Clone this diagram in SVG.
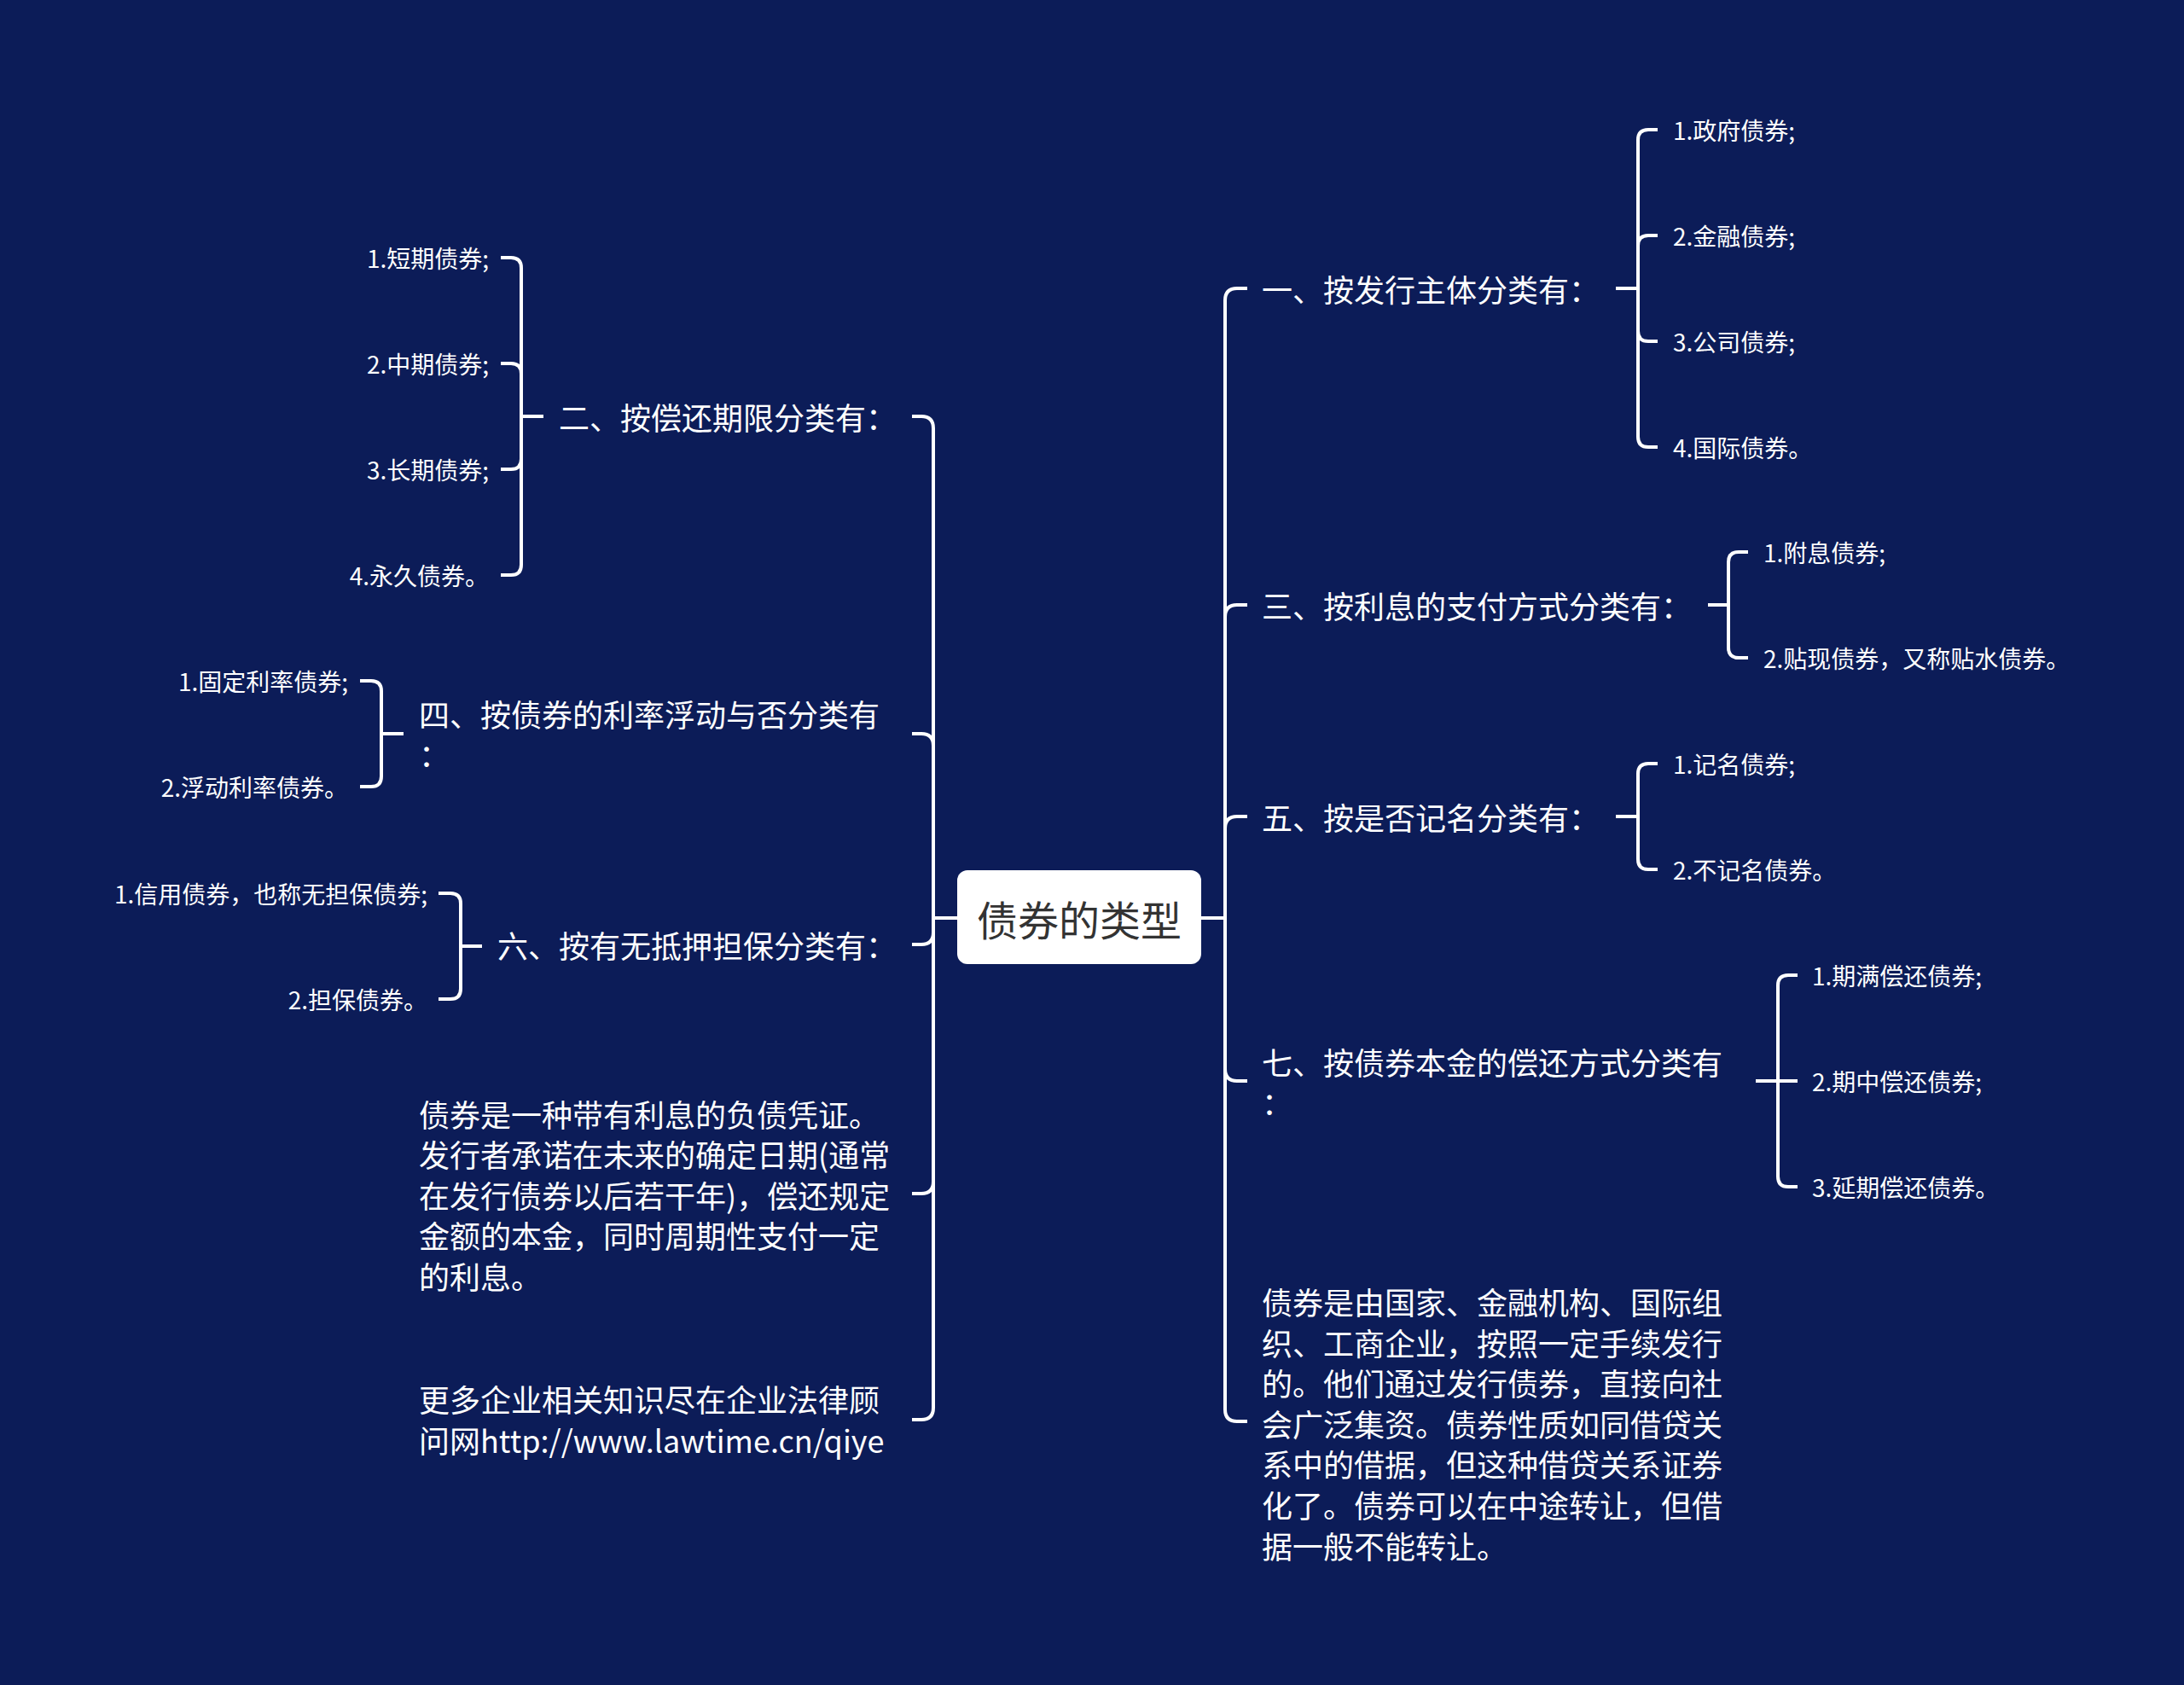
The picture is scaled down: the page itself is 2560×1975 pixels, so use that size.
<svg xmlns="http://www.w3.org/2000/svg" width="2560" height="1975" viewBox="0 0 2560 1975">
<style>
text{font-family:"Noto Sans CJK SC","Noto Sans",sans-serif;fill:#ffffff;dominant-baseline:central}
.l1{font-size:36px}
.l2{font-size:28px}
.r{text-anchor:end}
.c{fill:none;stroke:#ffffff;stroke-width:4;stroke-linecap:butt;stroke-linejoin:round}
</style>
<rect x="0" y="0" width="2560" height="1975" fill="#0c1c58"/>
<g id="connectors" class="c">
<path d="M1407,1076 H1436"/>
<path d="M1436,1076 V352 Q1436,338 1450,338 H1462"/>
<path d="M1436,1076 V723 Q1436,709 1450,709 H1462"/>
<path d="M1436,1076 V971 Q1436,957 1450,957 H1462"/>
<path d="M1436,1076 V1253 Q1436,1267 1450,1267 H1462"/>
<path d="M1436,1076 V1652 Q1436,1666 1450,1666 H1462"/>
<path d="M1122,1076 H1094"/>
<path d="M1094,1076 V502 Q1094,488 1080,488 H1069"/>
<path d="M1094,1076 V874 Q1094,860 1080,860 H1069"/>
<path d="M1094,1076 V1093 Q1094,1107 1080,1107 H1069"/>
<path d="M1094,1076 V1385 Q1094,1399 1080,1399 H1069"/>
<path d="M1094,1076 V1650 Q1094,1664 1080,1664 H1069"/>
<path d="M1894,338 H1920"/>
<path d="M1920,338 V164 Q1920,152 1932,152 H1943"/>
<path d="M1920,338 V288 Q1920,276 1932,276 H1943"/>
<path d="M1920,338 V388 Q1920,400 1932,400 H1943"/>
<path d="M1920,338 V512 Q1920,524 1932,524 H1943"/>
<path d="M2002,709 H2026"/>
<path d="M2026,709 V659 Q2026,647 2038,647 H2049"/>
<path d="M2026,709 V759 Q2026,771 2038,771 H2049"/>
<path d="M1894,957 H1920"/>
<path d="M1920,957 V907 Q1920,895 1932,895 H1943"/>
<path d="M1920,957 V1007 Q1920,1019 1932,1019 H1943"/>
<path d="M2058,1267 H2084"/>
<path d="M2084,1267 V1155 Q2084,1143 2096,1143 H2107"/>
<path d="M2084,1267 H2107"/>
<path d="M2084,1267 V1379 Q2084,1391 2096,1391 H2107"/>
<path d="M637,488 H611"/>
<path d="M611,488 V314 Q611,302 599,302 H587"/>
<path d="M611,488 V438 Q611,426 599,426 H587"/>
<path d="M611,488 V538 Q611,550 599,550 H587"/>
<path d="M611,488 V662 Q611,674 599,674 H587"/>
<path d="M473,860 H447"/>
<path d="M447,860 V810 Q447,798 435,798 H422"/>
<path d="M447,860 V910 Q447,922 435,922 H422"/>
<path d="M565,1109 H540"/>
<path d="M540,1109 V1059 Q540,1047 528,1047 H514"/>
<path d="M540,1109 V1159 Q540,1171 528,1171 H514"/>
</g>
<g id="root">
<rect x="1122" y="1020" width="286" height="110" rx="12" fill="#ffffff"/>
<text x="1265" y="1076" font-size="48" text-anchor="middle" style="fill:#333333">债券的类型</text>
</g>
<g id="n1"><text class="l1" x="1479" y="338">一、按发行主体分类有：</text></g>
<g id="n1-1"><text class="l2" x="1961" y="152">1.政府债券;</text></g>
<g id="n1-2"><text class="l2" x="1961" y="276">2.金融债券;</text></g>
<g id="n1-3"><text class="l2" x="1961" y="400">3.公司债券;</text></g>
<g id="n1-4"><text class="l2" x="1961" y="524">4.国际债券。</text></g>
<g id="n3"><text class="l1" x="1479" y="709">三、按利息的支付方式分类有：</text></g>
<g id="n3-1"><text class="l2" x="2067" y="647">1.附息债券;</text></g>
<g id="n3-2"><text class="l2" x="2067" y="771">2.贴现债券，又称贴水债券。</text></g>
<g id="n5"><text class="l1" x="1479" y="957">五、按是否记名分类有：</text></g>
<g id="n5-1"><text class="l2" x="1961" y="895">1.记名债券;</text></g>
<g id="n5-2"><text class="l2" x="1961" y="1019">2.不记名债券。</text></g>
<g id="n7"><text class="l1" x="1479" y="1244">七、按债券本金的偿还方式分类有</text><text class="l1" x="1479" y="1291">：</text></g>
<g id="n7-1"><text class="l2" x="2124" y="1143">1.期满偿还债券;</text></g>
<g id="n7-2"><text class="l2" x="2124" y="1267">2.期中偿还债券;</text></g>
<g id="n7-3"><text class="l2" x="2124" y="1391">3.延期偿还债券。</text></g>
<g id="n9"><text class="l1" x="1479" y="1525">债券是由国家、金融机构、国际组</text><text class="l1" x="1479" y="1572.6">织、工商企业，按照一定手续发行</text><text class="l1" x="1479" y="1620.2">的。他们通过发行债券，直接向社</text><text class="l1" x="1479" y="1667.8">会广泛集资。债券性质如同借贷关</text><text class="l1" x="1479" y="1715.4">系中的借据，但这种借贷关系证券</text><text class="l1" x="1479" y="1763">化了。债券可以在中途转让，但借</text><text class="l1" x="1479" y="1810.6">据一般不能转让。</text></g>
<g id="n2"><text class="l1" x="655" y="488">二、按偿还期限分类有：</text></g>
<g id="n2-1"><text class="l2 r" x="573" y="302">1.短期债券;</text></g>
<g id="n2-2"><text class="l2 r" x="573" y="426">2.中期债券;</text></g>
<g id="n2-3"><text class="l2 r" x="573" y="550">3.长期债券;</text></g>
<g id="n2-4"><text class="l2 r" x="573" y="674">4.永久债券。</text></g>
<g id="n4"><text class="l1" x="491" y="836">四、按债券的利率浮动与否分类有</text><text class="l1" x="491" y="883">：</text></g>
<g id="n4-1"><text class="l2 r" x="408" y="798">1.固定利率债券;</text></g>
<g id="n4-2"><text class="l2 r" x="408" y="922">2.浮动利率债券。</text></g>
<g id="n6"><text class="l1" x="583" y="1107">六、按有无抵押担保分类有：</text></g>
<g id="n6-1"><text class="l2 r" x="501" y="1047">1.信用债券，也称无担保债券;</text></g>
<g id="n6-2"><text class="l2 r" x="501" y="1171">2.担保债券。</text></g>
<g id="n8"><text class="l1" x="491" y="1304.5">债券是一种带有利息的负债凭证。</text><text class="l1" x="491" y="1352">发行者承诺在未来的确定日期(通常</text><text class="l1" x="491" y="1399.5">在发行债券以后若干年)，偿还规定</text><text class="l1" x="491" y="1447">金额的本金，同时周期性支付一定</text><text class="l1" x="491" y="1494.5">的利息。</text></g>
<g id="n10"><text class="l1" x="491" y="1639">更多企业相关知识尽在企业法律顾</text><text class="l1" x="491" y="1686.6">问网http://www.lawtime.cn/qiye</text></g>
</svg>
